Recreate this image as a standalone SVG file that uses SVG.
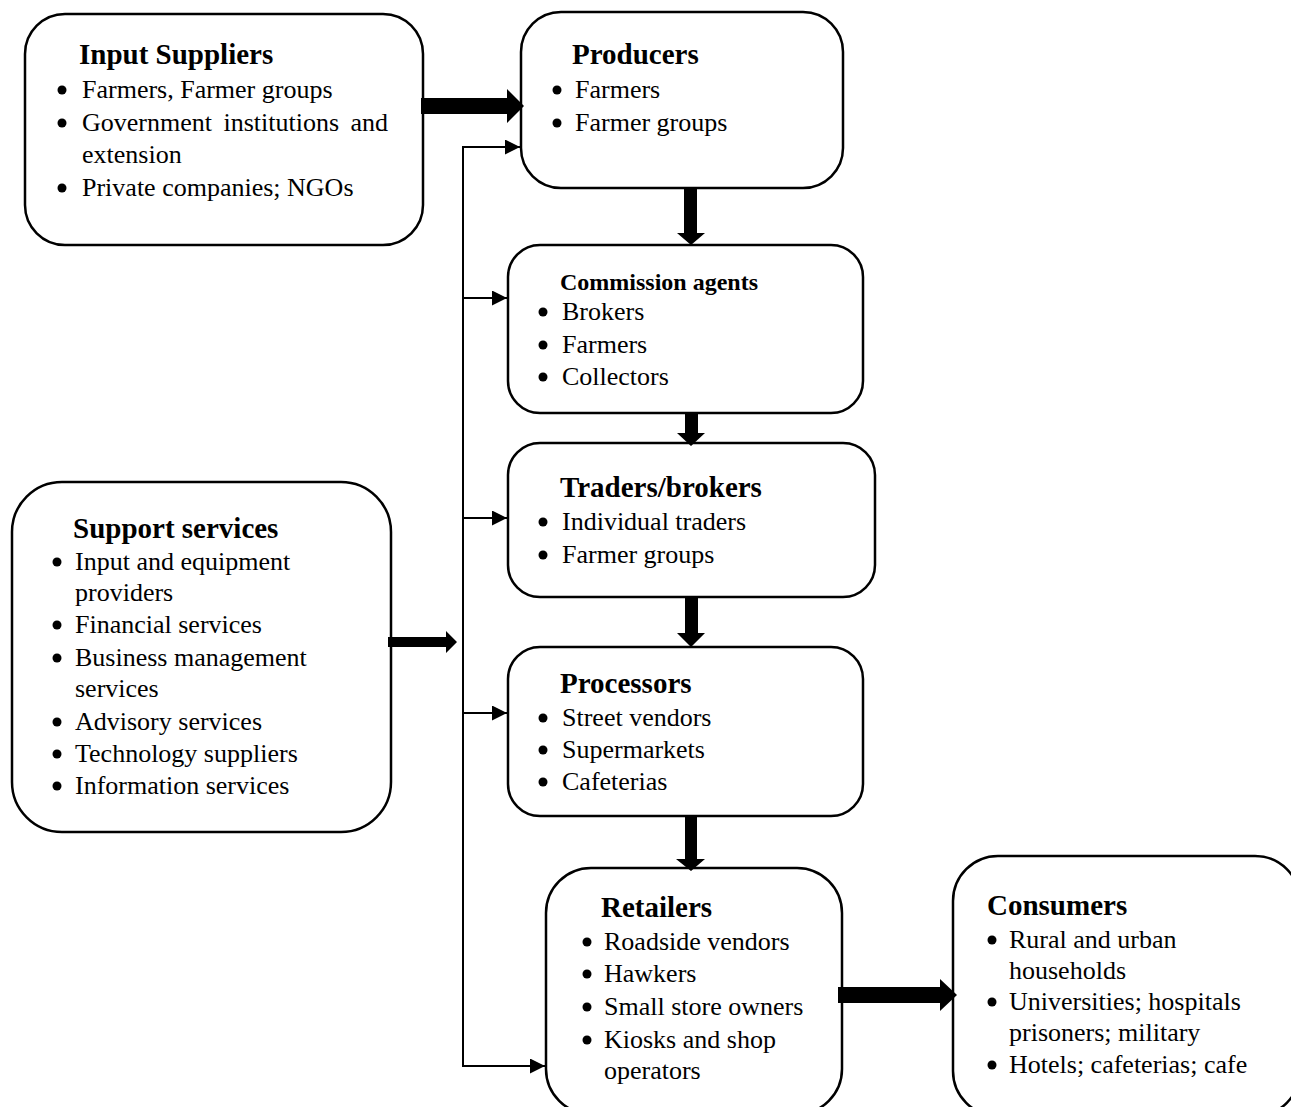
<svg xmlns="http://www.w3.org/2000/svg" width="1291" height="1107" viewBox="0 0 1291 1107">
<defs>
<style>
.box{fill:#fff;stroke:#000;stroke-width:2.5}
.t{font-family:"Liberation Serif","Times New Roman",serif;font-size:29px;font-weight:bold;fill:#000}
.ts{font-family:"Liberation Serif","Times New Roman",serif;font-size:24px;font-weight:bold;fill:#000}
.b{font-family:"Liberation Serif","Times New Roman",serif;font-size:26px;fill:#000}
.dot{fill:#000}
.thin{fill:none;stroke:#000;stroke-width:2}
.thick{fill:#000;stroke:none}
</style>
<marker id="ah" markerWidth="16" markerHeight="16" refX="15" refY="7.5" orient="auto" markerUnits="userSpaceOnUse">
<path d="M0,0 L15,7.5 L0,15 Z" fill="#000"/>
</marker>
</defs>
<rect width="1291" height="1107" fill="#fff"/>

<g id="input-suppliers">
<rect class="box" x="25" y="14" width="398" height="231" rx="40" ry="40"/>
<text class="t" x="79" y="64">Input Suppliers</text>
<circle class="dot" cx="62" cy="90" r="4.5"/>
<text class="b" x="82" y="98">Farmers, Farmer groups</text>
<circle class="dot" cx="62" cy="123" r="4.5"/>
<text class="b" x="82" y="131" word-spacing="5">Government institutions and</text>
<text class="b" x="82" y="163">extension</text>
<circle class="dot" cx="62" cy="188" r="4.5"/>
<text class="b" x="82" y="196">Private companies; NGOs</text>
</g>

<g id="producers">
<rect class="box" x="521" y="12" width="322" height="176" rx="40" ry="40"/>
<text class="t" x="572" y="64">Producers</text>
<circle class="dot" cx="557" cy="90" r="4.5"/>
<text class="b" x="575" y="98">Farmers</text>
<circle class="dot" cx="557" cy="123" r="4.5"/>
<text class="b" x="575" y="131">Farmer groups</text>
</g>

<g id="commission-agents">
<rect class="box" x="508" y="245" width="355" height="168" rx="32" ry="32"/>
<text class="ts" x="560" y="290">Commission agents</text>
<circle class="dot" cx="543" cy="312" r="4.5"/>
<text class="b" x="562" y="320">Brokers</text>
<circle class="dot" cx="543" cy="345" r="4.5"/>
<text class="b" x="562" y="353">Farmers</text>
<circle class="dot" cx="543" cy="377" r="4.5"/>
<text class="b" x="562" y="385">Collectors</text>
</g>

<g id="traders-brokers">
<rect class="box" x="508" y="443" width="367" height="154" rx="32" ry="32"/>
<text class="t" x="560" y="497">Traders/brokers</text>
<circle class="dot" cx="543" cy="522" r="4.5"/>
<text class="b" x="562" y="530">Individual traders</text>
<circle class="dot" cx="543" cy="555" r="4.5"/>
<text class="b" x="562" y="563">Farmer groups</text>
</g>

<g id="processors">
<rect class="box" x="508" y="647" width="355" height="169" rx="32" ry="32"/>
<text class="t" x="560" y="693">Processors</text>
<circle class="dot" cx="543" cy="718" r="4.5"/>
<text class="b" x="562" y="726">Street vendors</text>
<circle class="dot" cx="543" cy="750" r="4.5"/>
<text class="b" x="562" y="758">Supermarkets</text>
<circle class="dot" cx="543" cy="782" r="4.5"/>
<text class="b" x="562" y="790">Cafeterias</text>
</g>

<g id="retailers">
<rect class="box" x="546" y="868" width="296" height="246" rx="45" ry="45"/>
<text class="t" x="601" y="917">Retailers</text>
<circle class="dot" cx="587" cy="942" r="4.5"/>
<text class="b" x="604" y="950">Roadside vendors</text>
<circle class="dot" cx="587" cy="974" r="4.5"/>
<text class="b" x="604" y="982">Hawkers</text>
<circle class="dot" cx="587" cy="1007" r="4.5"/>
<text class="b" x="604" y="1015">Small store owners</text>
<circle class="dot" cx="587" cy="1040" r="4.5"/>
<text class="b" x="604" y="1048">Kiosks and shop</text>
<text class="b" x="604" y="1079">operators</text>
</g>

<g id="consumers">
<rect class="box" x="953" y="856" width="347" height="260" rx="45" ry="45"/>
<text class="t" x="987" y="915">Consumers</text>
<circle class="dot" cx="992" cy="940" r="4.5"/>
<text class="b" x="1009" y="948">Rural and urban</text>
<text class="b" x="1009" y="979">households</text>
<circle class="dot" cx="992" cy="1002" r="4.5"/>
<text class="b" x="1009" y="1010">Universities; hospitals</text>
<text class="b" x="1009" y="1041">prisoners; military</text>
<circle class="dot" cx="992" cy="1065" r="4.5"/>
<text class="b" x="1009" y="1073">Hotels; cafeterias; cafe</text>
</g>

<g id="support-services">
<rect class="box" x="12" y="482" width="379" height="350" rx="50" ry="50"/>
<text class="t" x="73" y="538">Support services</text>
<circle class="dot" cx="57" cy="562" r="4.5"/>
<text class="b" x="75" y="570">Input and equipment</text>
<text class="b" x="75" y="601">providers</text>
<circle class="dot" cx="57" cy="625" r="4.5"/>
<text class="b" x="75" y="633">Financial services</text>
<circle class="dot" cx="57" cy="658" r="4.5"/>
<text class="b" x="75" y="666">Business management</text>
<text class="b" x="75" y="697">services</text>
<circle class="dot" cx="57" cy="722" r="4.5"/>
<text class="b" x="75" y="730">Advisory services</text>
<circle class="dot" cx="57" cy="754" r="4.5"/>
<text class="b" x="75" y="762">Technology suppliers</text>
<circle class="dot" cx="57" cy="786" r="4.5"/>
<text class="b" x="75" y="794">Information services</text>
</g>

<g id="connectors">
<polygon class="thick" points="421,98 507,98 507,89 524,106 507,123 507,114 421,114"/>
<polygon class="thick" points="388,637 446,637 446,631 457,642 446,653 446,647 388,647"/>
<polygon class="thick" points="838,987 940,987 940,979 957,995 940,1011 940,1003 838,1003"/>
<polygon class="thick" points="684,188 697,188 697,233 705,233 691,245 677,233 684,233"/>
<polygon class="thick" points="685,413 698,413 698,433 705,433 691,446 677,433 685,433"/>
<polygon class="thick" points="685,597 698,597 698,633 705,633 691,647 677,633 685,633"/>
<polygon class="thick" points="685,816 697,816 697,859 705,859 691,871 676,859 685,859"/>
<line class="thin" x1="463" y1="146" x2="463" y2="1067"/>
<line class="thin" x1="462" y1="147" x2="520" y2="147" marker-end="url(#ah)"/>
<line class="thin" x1="463" y1="298" x2="507" y2="298" marker-end="url(#ah)"/>
<line class="thin" x1="463" y1="518" x2="507" y2="518" marker-end="url(#ah)"/>
<line class="thin" x1="463" y1="713" x2="507" y2="713" marker-end="url(#ah)"/>
<line class="thin" x1="462" y1="1066" x2="545" y2="1066" marker-end="url(#ah)"/>
</g>
</svg>
